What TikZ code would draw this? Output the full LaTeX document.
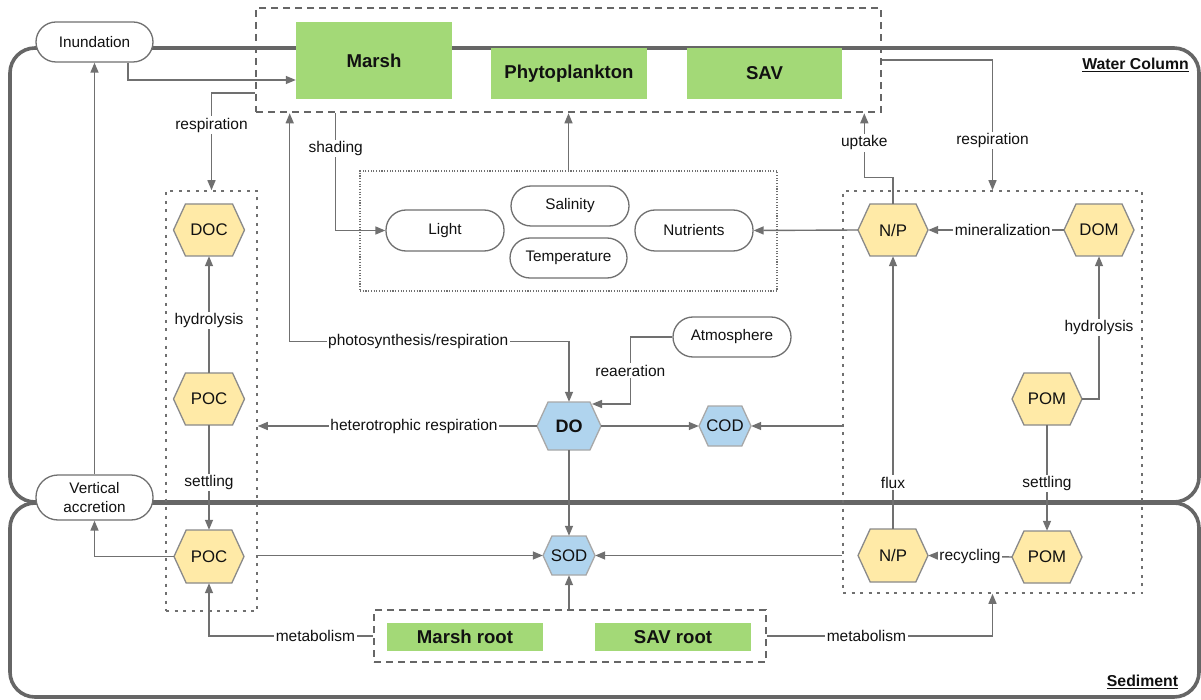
\documentclass[tikz,border=0pt]{standalone}
\usepackage{fontspec}
\setmainfont{Liberation Sans}
\usetikzlibrary{arrows.meta,calc}
\definecolor{cline}{HTML}{707070}
\definecolor{obox}{HTML}{666666}
\definecolor{plantg}{HTML}{A3D977}
\definecolor{hexy}{HTML}{FFEAA7}
\definecolor{hexb}{HTML}{B0D4EE}
\definecolor{hexyline}{HTML}{8A8A8A}
\definecolor{hexbline}{HTML}{A8A8A8}
\definecolor{txt}{HTML}{111111}
\tikzset{
  arr/.style={draw=cline, line width=1.4pt, -{Triangle[length=10pt,width=8pt]}},
  arrboth/.style={draw=cline, line width=1.4pt, {Triangle[length=10pt,width=8pt]}-{Triangle[length=10pt,width=8pt]}},
  lab/.style={fill=white, inner sep=1.5pt, text=txt, font=\fontsize{15.5}{17}\selectfont},
  outerbox/.style={draw=obox, line width=3.6pt, rounded corners=25pt},
  plantbox/.style={fill=plantg, draw=none, inner sep=0pt, text=txt, font=\bfseries\fontsize{18.6}{20}\selectfont},
  stadium/.style={draw=cline, line width=1.3pt, fill=white, rounded corners=20pt, inner sep=0pt, text=txt, font=\fontsize{15.3}{19}\selectfont, align=center},
  groupdash/.style={draw=obox, line width=2.6pt, dash pattern=on 7pt off 5pt, inner sep=0pt},
  groupdot/.style={draw=cline, line width=1.6pt, dash pattern=on 3pt off 5.5pt, inner sep=0pt},
  envdot/.style={draw=cline, line width=1.1pt, dash pattern=on 1.1pt off 1.6pt, inner sep=0pt},
  seclab/.style={text=txt, font=\bfseries\fontsize{15.8}{18}\selectfont, inner sep=0pt},
}
% hexagon: name, x, y, w, h, fill, line colour, text
\newcommand\hexa[8]{%
  \filldraw[fill=#6, draw=#7, line width=1.3pt]
    ({#2-#4/2},#3) -- ({#2-#4/2+0.23*#5},{#3-#5/2}) -- ({#2+#4/2-0.23*#5},{#3-#5/2})
    -- ({#2+#4/2},#3) -- ({#2+#4/2-0.23*#5},{#3+#5/2}) -- ({#2-#4/2+0.23*#5},{#3+#5/2}) -- cycle;
  \node[minimum width=#4pt, minimum height=#5pt, inner sep=0pt, text=txt] (#1) at (#2,#3) {#8};%
}
\begin{document}
\begin{tikzpicture}[x=1pt,y=-1pt]
\useasboundingbox[fill=white] (0,0) rectangle (1201,700);

% compartments
\draw[outerbox] (10,48) rectangle (1199,502);
\draw[outerbox] (10,503) rectangle (1199,697);
\node[seclab] (wc) at (1135.5,65) {\underline{Water Column}};
\node[seclab] (sed) at (1142.5,682) {\underline{Sediment}};

% group boxes
\node[groupdash, minimum width=625pt, minimum height=104pt] (plants) at (568.5,60) {};
\node[groupdash, minimum width=392pt, minimum height=52pt] (roots) at (570,636) {};
\node[groupdot, minimum width=91pt, minimum height=420pt] (lbox) at (211.5,401) {};
\node[groupdot, minimum width=299pt, minimum height=402pt] (rbox) at (992.5,392) {};
\node[envdot, minimum width=417pt, minimum height=120pt] (env) at (568.5,231) {};

% plants
\node[plantbox, minimum width=156pt, minimum height=77pt] (marsh) at (374,60.5) {Marsh};
\node[plantbox, minimum width=156pt, minimum height=51pt] (phyto) at (569,73.5) {Phytoplankton};
\node[plantbox, minimum width=155pt, minimum height=51pt] (sav) at (764.5,73.5) {SAV};
\node[plantbox, minimum width=156pt, minimum height=28pt] (mroot) at (465,637) {Marsh root};
\node[plantbox, minimum width=156pt, minimum height=28pt] (sroot) at (673,637) {SAV root};

% stadiums
\node[stadium, minimum width=117pt, minimum height=40pt] (inund) at (94.5,42) {Inundation};
\node[stadium, minimum width=117pt, minimum height=45pt, rounded corners=22pt] (vacc) at (94.5,497.5) {Vertical\\accretion};
\node[stadium, minimum width=118pt, minimum height=41pt] (light) at (445,230.5) {Light};
\node[stadium, minimum width=118pt, minimum height=40pt] (sal) at (570,206) {Salinity};
\node[stadium, minimum width=117pt, minimum height=40pt] (temp) at (568.5,258) {Temperature};
\node[stadium, minimum width=118pt, minimum height=41pt] (nutr) at (694,230.5) {Nutrients};
\node[stadium, minimum width=118pt, minimum height=40pt] (atm) at (732,337) {Atmosphere};

% hexagons
\def\hf{\fontsize{16.8}{18}\selectfont}
\hexa{doc}{209}{230}{71}{52}{hexy}{hexyline}{\hf DOC}
\hexa{poca}{209}{399}{71}{52}{hexy}{hexyline}{\hf POC}
\hexa{pocb}{209}{556.5}{70}{53}{hexy}{hexyline}{\hf POC}
\hexa{npa}{893}{230}{70}{52}{hexy}{hexyline}{\hf N/P}
\hexa{dom}{1099}{230}{70}{52}{hexy}{hexyline}{\hf DOM}
\hexa{poma}{1047}{399}{70}{52}{hexy}{hexyline}{\hf POM}
\hexa{npb}{893}{555.5}{70}{53}{hexy}{hexyline}{\hf N/P}
\hexa{pomb}{1047}{557}{70}{52}{hexy}{hexyline}{\hf POM}
\hexa{DO}{569}{426}{64}{48}{hexb}{hexbline}{\bfseries\fontsize{18}{20}\selectfont DO}
\hexa{COD}{725}{426}{52}{40}{hexb}{hexbline}{\hf COD}
\hexa{SOD}{569}{555.5}{52}{39}{hexb}{hexbline}{\hf SOD}

% connectors
\draw[arr] ([xshift=33.5pt]inund.south) |- ([yshift=-19.5pt]marsh.west);
\draw[arr] ([yshift=-33pt]plants.west) -| node[lab,pos=0.665]{respiration} (lbox.north);
\draw[arr] (vacc.north) -- (inund.south);
\draw[arrboth] ([xshift=35pt]plants.south west) -- ++(0,228) -| node[lab,pos=0.23]{photosynthesis/respiration} (DO.north);
\draw[arr] ([xshift=81pt]plants.south west) |- node[lab,pos=0.15]{shading} (light.west);
\draw[arr] (env.north) -- (env.north |- plants.south);
\draw[arr] (npa.west) -- (nutr.east);
\draw[arr] (poca.north) -- node[lab,pos=0.45]{hydrolysis} (doc.south);
\draw[arr] (poca.south) -- node[lab,pos=0.55]{settling} (pocb.north);
\draw[arr] (DO.west) -- node[lab,pos=0.44]{heterotrophic respiration} (lbox.east |- DO.west);
\draw[arr] (pocb.west) -| (vacc.south);
\draw[arr] (lbox.east |- SOD.west) -- (SOD.west);
\draw[arr] (atm.west) -- ++(-42,0) |- node[lab,pos=0.25]{reaeration} ([xshift=23pt,yshift=22pt]DO.center);
\draw[arr] (DO.east) -- (COD.west);
\draw[arr] (rbox.west |- COD.east) -- (COD.east);
\draw[arr] (DO.south) -- (SOD.north);
\draw[arr] (rbox.west |- SOD.east) -- (SOD.east);
\draw[arr] (roots.north -| SOD.south) -- (SOD.south);
\draw[arr] (roots.west) -| node[lab,pos=0.175]{metabolism} (pocb.south);
\draw[arr] (roots.east) -| node[lab,pos=0.22]{metabolism} (rbox.south);
\draw[arr] (npa.north) -- ++(0,-26) -| node[lab,pos=0.77]{uptake} ([xshift=-18pt]plants.south east);
\draw[arr] (plants.east) -| node[lab,pos=0.81]{respiration} (rbox.north);
\draw[arr] (dom.west) -- node[lab,pos=0.45]{mineralization} (npa.east);
\draw[arr] (poma.east) -| node[lab,pos=0.75]{hydrolysis} (dom.south);
\draw[arr] (poma.south) -- node[lab,pos=0.55]{settling} (pomb.north);
\draw[arr] (pomb.west) -- node[lab]{recycling} (npb.east);
\draw[arr] (npb.north) -- node[lab,pos=0.17]{flux} (npa.south);
\end{tikzpicture}
\end{document}
